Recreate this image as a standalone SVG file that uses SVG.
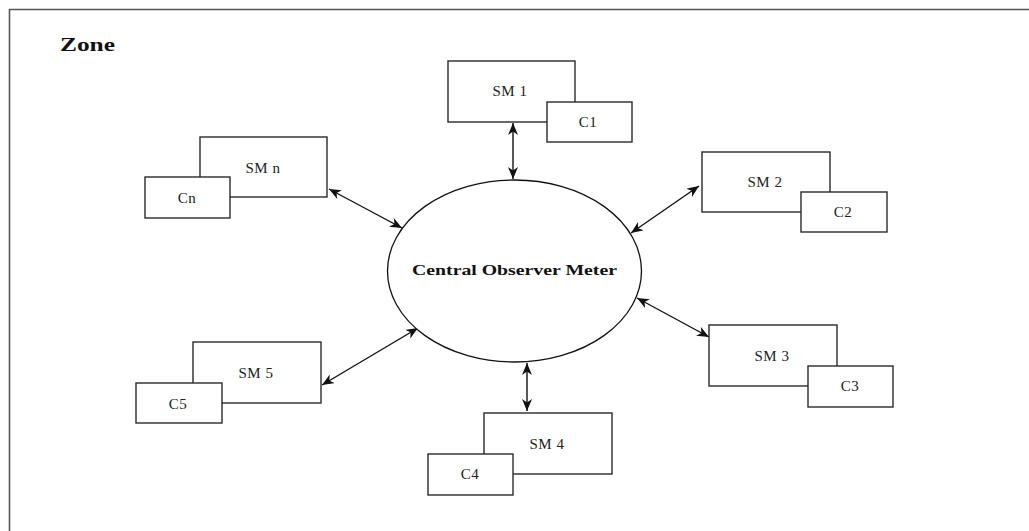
<svg xmlns="http://www.w3.org/2000/svg" width="1029" height="531" viewBox="0 0 1029 531">
<style>
.box{fill:#fff;stroke:#2a2a2a;stroke-width:1.4}
.t{font-family:"Liberation Serif","Times New Roman",serif;font-size:15px;fill:#222;text-anchor:middle;letter-spacing:0.5px}
.b{font-family:"Liberation Serif","Times New Roman",serif;font-weight:bold;fill:#111}
.c{stroke:#111;stroke-width:1.4;fill:none;marker-start:url(#ah);marker-end:url(#ah)}
</style>
<defs>
<marker id="ah" markerUnits="userSpaceOnUse" markerWidth="14" markerHeight="12" refX="12" refY="5" orient="auto-start-reverse">
<path d="M0,0 L12,5 L0,10 L3.5,5 z" fill="#111"/>
</marker>
</defs>
<rect width="1029" height="531" fill="#fff"/>
<g id="frame" stroke="#555" stroke-width="1.6" fill="none">
<path d="M9.5,531 L9.5,9.5 L1029,9.5"/>
</g>
<text id="zone" class="b" x="60" y="51" font-size="18" textLength="55" lengthAdjust="spacingAndGlyphs">Zone</text>
<g id="connectors">
<line class="c" x1="513" y1="123" x2="513" y2="179"/>
<line class="c" x1="699" y1="186" x2="631" y2="233"/>
<line class="c" x1="637" y1="298" x2="709" y2="337"/>
<line class="c" x1="527" y1="363" x2="527" y2="411"/>
<line class="c" x1="322" y1="385" x2="418" y2="328"/>
<line class="c" x1="329" y1="189" x2="402" y2="228"/>
</g>
<g id="central">
<ellipse cx="514.5" cy="271" rx="127" ry="91" fill="#fff" stroke="#111" stroke-width="1.3"/>
<text class="b" x="412" y="275" font-size="15" textLength="205" lengthAdjust="spacingAndGlyphs">Central Observer Meter</text>
</g>
<g id="sm1">
<rect class="box" x="448" y="61" width="127" height="61"/>
<text class="t" x="510" y="96">SM 1</text>
</g>
<g id="c1">
<rect class="box" x="547" y="102" width="85" height="40"/>
<text class="t" x="588" y="127">C1</text>
</g>
<g id="sm2">
<rect class="box" x="702" y="152" width="128" height="60"/>
<text class="t" x="765" y="187">SM 2</text>
</g>
<g id="c2">
<rect class="box" x="801" y="192" width="86" height="40"/>
<text class="t" x="843" y="217">C2</text>
</g>
<g id="sm3">
<rect class="box" x="709" y="325" width="128" height="61"/>
<text class="t" x="772" y="361">SM 3</text>
</g>
<g id="c3">
<rect class="box" x="808" y="366" width="85" height="41"/>
<text class="t" x="850" y="391">C3</text>
</g>
<g id="sm4">
<rect class="box" x="484" y="413" width="128" height="61"/>
<text class="t" x="547" y="449">SM 4</text>
</g>
<g id="c4">
<rect class="box" x="428" y="454" width="85" height="41"/>
<text class="t" x="470" y="479">C4</text>
</g>
<g id="sm5">
<rect class="box" x="193" y="342" width="128" height="61"/>
<text class="t" x="256" y="378">SM 5</text>
</g>
<g id="c5">
<rect class="box" x="136" y="383" width="86" height="40"/>
<text class="t" x="178" y="409">C5</text>
</g>
<g id="smn">
<rect class="box" x="200" y="137" width="127" height="60"/>
<text class="t" x="263" y="173">SM n</text>
</g>
<g id="cn">
<rect class="box" x="145" y="177" width="85" height="41"/>
<text class="t" x="187" y="203">Cn</text>
</g>
</svg>
